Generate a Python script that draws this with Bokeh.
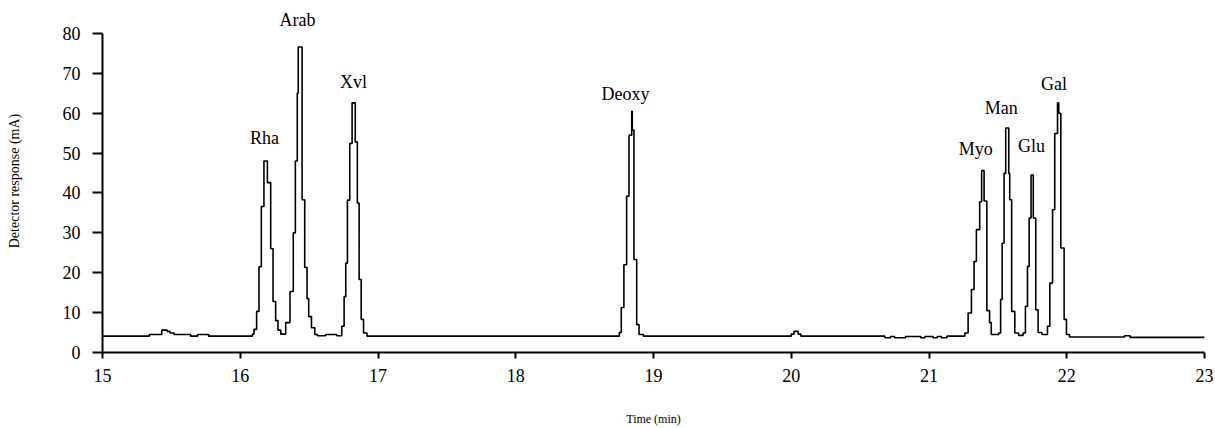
from bokeh.plotting import figure
from bokeh.models import ColumnDataSource, LabelSet, FixedTicker
from bokeh.embed import file_html
from bokeh.resources import INLINE

# Chromatogram trace, stored region by region as stepwise (time, response) samples
base_pre_t = [15.00, 15.34, 15.43, 15.47, 15.49, 15.52, 15.64, 15.69, 15.77]
base_pre_v = [4.1, 4.5, 5.6, 5.3, 4.9, 4.5, 4.1, 4.5, 4.1]

rha_t = [16.088, 16.100, 16.119, 16.136, 16.153, 16.172, 16.197, 16.221, 16.238, 16.257, 16.274, 16.294]
rha_v = [4.6, 5.8, 10.3, 21.5, 36.6, 48.0, 42.6, 26.0, 12.8, 8.0, 5.6, 4.6]

arab_t = [16.330, 16.361, 16.385, 16.400, 16.414, 16.421, 16.449, 16.468, 16.485, 16.497, 16.517, 16.541, 16.560]
arab_v = [7.5, 15.3, 30.0, 48.0, 65.0, 76.6, 38.3, 21.3, 13.5, 9.0, 6.2, 4.5, 4.2]

gap1_t = [16.62, 16.70]
gap1_v = [4.5, 4.2]

xyl_t = [16.737, 16.754, 16.766, 16.778, 16.795, 16.812, 16.835, 16.850, 16.863, 16.878, 16.895, 16.920]
xyl_v = [6.6, 14.0, 22.4, 38.2, 52.4, 62.6, 52.8, 37.5, 18.3, 8.3, 4.9, 4.1]

deoxy_t = [18.752, 18.766, 18.785, 18.805, 18.822, 18.842, 18.846, 18.858, 18.878, 18.895, 18.927]
deoxy_v = [5.0, 11.3, 22.0, 39.2, 54.5, 60.5, 55.8, 23.3, 7.0, 4.5, 4.1]

bump_t = [20.00, 20.02, 20.05, 20.07]
bump_v = [4.6, 5.3, 4.6, 4.1]

noise_t = [20.68, 20.72, 20.75, 20.83, 20.94, 20.97, 21.03, 21.06, 21.09, 21.13]
noise_v = [3.7, 4.0, 3.7, 4.0, 3.7, 4.0, 3.7, 4.0, 3.7, 4.1]

myo_t = [21.260, 21.284, 21.308, 21.327, 21.344, 21.368, 21.382, 21.400, 21.420, 21.440, 21.452]
myo_v = [4.9, 9.9, 15.8, 22.8, 30.8, 37.8, 45.6, 38.0, 10.5, 7.5, 4.5]

man_t = [21.506, 21.520, 21.531, 21.545, 21.557, 21.579, 21.586, 21.600, 21.623, 21.650]
man_v = [4.9, 13.3, 27.4, 44.9, 56.3, 44.9, 38.3, 10.3, 4.9, 4.3]

glu_t = [21.683, 21.700, 21.715, 21.727, 21.741, 21.757, 21.775, 21.792, 21.820]
glu_v = [4.9, 11.6, 21.6, 33.7, 44.5, 33.7, 10.7, 5.0, 4.5]

gal_t = [21.860, 21.877, 21.897, 21.913, 21.933, 21.942, 21.957, 21.981, 21.998, 22.020]
gal_v = [6.6, 17.4, 35.8, 54.9, 62.6, 60.0, 26.2, 8.3, 4.5, 3.9]

base_post_t = [22.42, 22.46, 23.00]
base_post_v = [4.2, 3.8, 3.8]

# Peak names and where each name sits
peak_names = ["Rha", "Arab", "Xvl", "Deoxy", "Myo", "Man", "Glu", "Gal"]
name_t = [16.176, 16.416, 16.822, 18.797, 21.340, 21.525, 21.745, 21.908]
name_v = [52.3, 81.8, 66.4, 63.3, 49.5, 59.9, 50.3, 65.8]

x_ticks = [15, 16, 17, 18, 19, 20, 21, 22, 23]
y_ticks = [0, 10, 20, 30, 40, 50, 60, 70, 80]

segments_t = [base_pre_t, rha_t, arab_t, gap1_t, xyl_t, deoxy_t, bump_t, noise_t,
              myo_t, man_t, glu_t, gal_t, base_post_t]
segments_v = [base_pre_v, rha_v, arab_v, gap1_v, xyl_v, deoxy_v, bump_v, noise_v,
              myo_v, man_v, glu_v, gal_v, base_post_v]
time = [t for seg in segments_t for t in seg]
signal = [v for seg in segments_v for v in seg]

serif = "Liberation Serif"

# Headroom above 80 keeps the tallest peak name inside the frame; the axis stops at 80
p = figure(width=1215, height=428, x_range=(15, 23), y_range=(0, 86),
           output_backend="svg", toolbar_location=None,
           min_border_left=102, min_border_right=11,
           min_border_top=9, min_border_bottom=75)
p.outline_line_color = None
p.grid.visible = False
p.background_fill_color = "white"
p.border_fill_color = "white"

p.step(time, signal, mode="after", line_color="black", line_width=1.6)

names = ColumnDataSource(dict(x=name_t, y=name_v, text=peak_names))
p.add_layout(LabelSet(x="x", y="y", text="text", source=names,
                      text_align="center", text_baseline="alphabetic",
                      text_font=serif, text_font_size="18px", text_color="black"))

for ax in (p.xaxis[0], p.yaxis[0]):
    ax.axis_line_color = "black"
    ax.axis_line_width = 2
    ax.major_tick_line_color = "black"
    ax.major_tick_line_width = 2
    ax.major_tick_in = 0
    ax.minor_tick_line_color = None
    ax.major_label_text_font = serif
    ax.major_label_text_font_size = "18px"
    ax.major_label_text_color = "black"
    ax.axis_label_text_font = serif
    ax.axis_label_text_font_style = "normal"
    ax.axis_label_text_color = "black"

p.xaxis.ticker = FixedTicker(ticks=x_ticks)
p.yaxis.ticker = FixedTicker(ticks=y_ticks)
p.yaxis.bounds = (0, 80)
p.xaxis.major_tick_out = 6
p.xaxis.major_label_standoff = 10
p.yaxis.major_tick_out = 10
p.yaxis.major_label_standoff = 12

p.xaxis.axis_label = "Time (min)"
p.xaxis.axis_label_text_font_size = "12px"
p.xaxis.axis_label_standoff = 27
p.yaxis.axis_label = "Detector response (mA)"
p.yaxis.axis_label_text_font_size = "14px"
p.yaxis.axis_label_standoff = 38

open("out.html", "w").write(file_html(p, INLINE))
